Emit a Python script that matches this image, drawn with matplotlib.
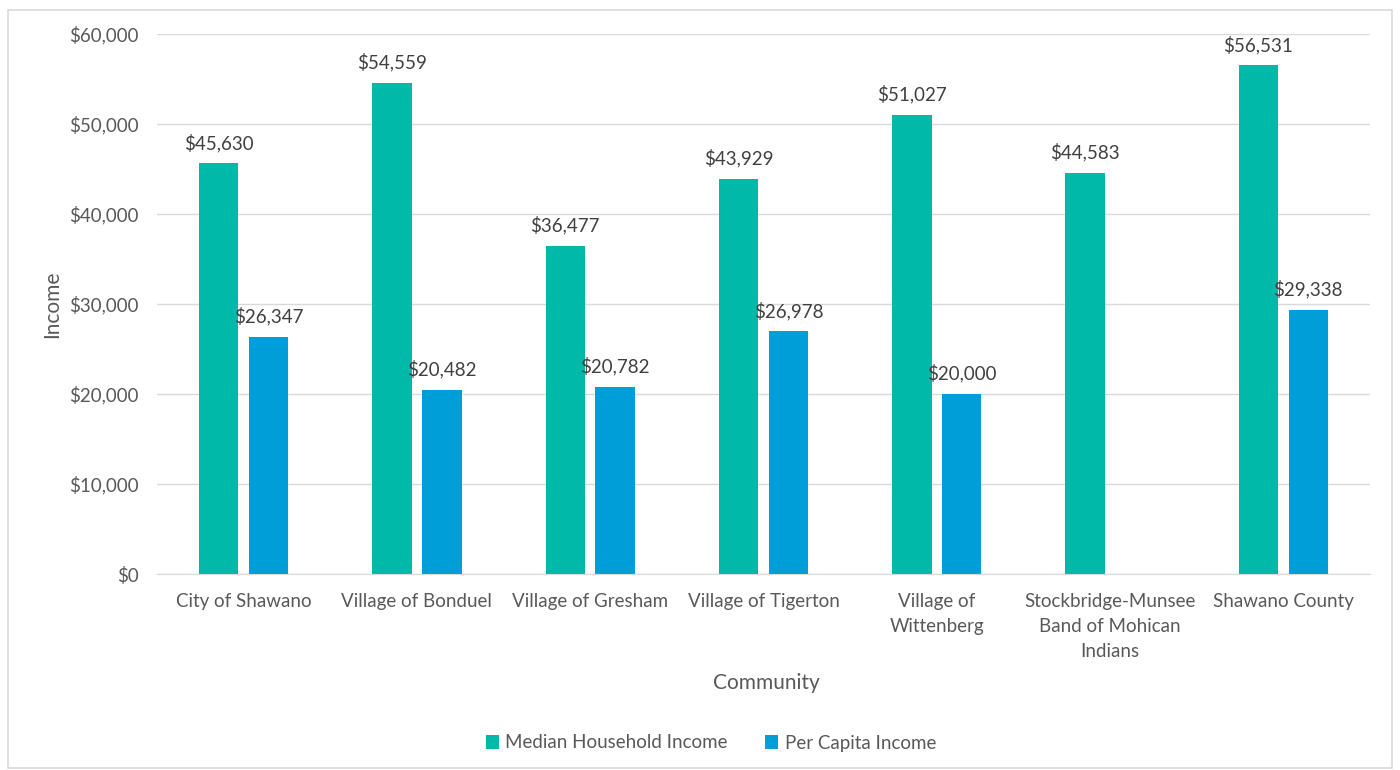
import numpy as np
import matplotlib
matplotlib.use("Agg")
import matplotlib.pyplot as plt
from matplotlib.patches import Rectangle
from matplotlib.ticker import FuncFormatter, MultipleLocator

plt.rcParams['font.family'] = ['Lato', 'DejaVu Sans']

communities = ["City of Shawano", "Village of Bonduel", "Village of Gresham",
               "Village of Tigerton", "Village of\nWittenberg",
               "Stockbridge-Munsee\nBand of Mohican\nIndians", "Shawano County"]
median_household = [45630, 54559, 36477, 43929, 51027, 44583, 56531]
per_capita = [26347, 20482, 20782, 26978, 20000, np.nan, 29338]
series_names = ["Median Household Income", "Per Capita Income"]

teal = "#00B9A9"
blue = "#009ED8"
text_gray = "#595959"

fig = plt.figure(figsize=(14, 7.7), dpi=100)
ax = fig.add_axes([157/1400, 1-574/770, (1370-157)/1400, (574-34)/770])

x = np.arange(len(communities))
w = 0.228
off = 0.144
b1 = ax.bar(x - off, median_household, w, color=teal, label=series_names[0])
b2 = ax.bar(x + off, per_capita, w, color=blue, label=series_names[1])

for xi, v in zip(x - off, median_household):
    ax.text(xi, v + 1250, f"${v:,.0f}", ha="center", va="bottom",
            fontsize=13.5, color="#404040")
for xi, v in zip(x + off, per_capita):
    if np.isfinite(v):
        ax.text(xi, v + 1250, f"${v:,.0f}", ha="center", va="bottom",
                fontsize=13.5, color="#404040")

ax.set_xlim(-0.5, len(communities) - 0.5)
ax.set_ylim(0, 60000)
ax.yaxis.set_major_locator(MultipleLocator(10000))
ax.yaxis.set_major_formatter(FuncFormatter(lambda v, p: f"${v:,.0f}"))
ax.set_xticks(x)
ax.set_xticklabels(communities, linespacing=1.55)
ax.tick_params(axis="both", length=0, labelsize=13.5, labelcolor=text_gray)
ax.tick_params(axis="x", pad=14)
ax.tick_params(axis="y", pad=13)
ax.grid(axis="y", color="#D9D9D9", linewidth=1)
ax.set_axisbelow(True)
for s in ["top", "right", "left"]:
    ax.spines[s].set_visible(False)
ax.spines["bottom"].set_color("#D9D9D9")

ax.set_ylabel("Income", fontsize=15, color=text_gray, va="center")
ax.yaxis.set_label_coords(-(157-52)/(1370-157), 0.5)
fig.text(766/1400, 1-683/770, "Community", ha="center", va="center",
         fontsize=15, color=text_gray)

leg = fig.legend(handles=[b1, b2], labels=series_names, loc="center",
                 bbox_to_anchor=(711/1400, 1-743/770), ncol=2, frameon=False,
                 fontsize=13.5, handlelength=0.7, handleheight=0.7,
                 handletextpad=0.35, columnspacing=2.0)
for t in leg.get_texts():
    t.set_color(text_gray)

fig.patches.append(Rectangle((8/1400, 2/770), 1384/1400, 758/770,
                             transform=fig.transFigure, fill=False,
                             edgecolor="#D9D9D9", linewidth=1.2))

fig.savefig("out.png", dpi=100, facecolor="white")
